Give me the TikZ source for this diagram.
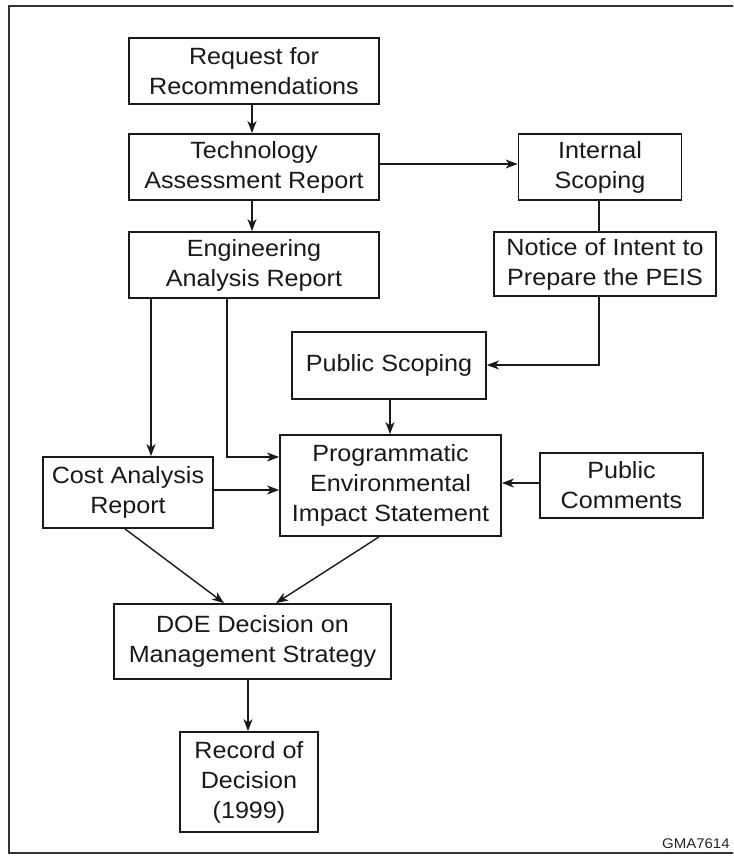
\documentclass[tikz,border=0pt]{standalone}
\usepackage{fontspec}
\setmainfont{Liberation Sans}[FakeStretch=1.07]
\usetikzlibrary{positioning, arrows.meta}

\tikzset{
  box/.style={draw=black!90, text=black!90, line width=1.8pt, align=center,
    inner sep=0pt, font=\fontsize{23.5}{30}\selectfont},
  link/.style={draw=black!90, line width=1.4pt, -{Stealth[length=12pt, width=9pt, inset=3.5pt]}},
  bareline/.style={draw=black!90, line width=1.4pt}
}

\begin{document}
\begin{tikzpicture}[x=1pt, y=-1pt]
    \useasboundingbox (0,0) rectangle (733,856);
    \clip (0,0) rectangle (733,856);
    \draw[black!80, line width=1.6pt] (9,6) rectangle (760,853);

    % left column
    \node[box, minimum width=250pt, minimum height=66pt] (req) at (254,71) {Request for\\Recommendations};
    \node[box, minimum width=250pt, minimum height=66pt] (tech) at (254,167) {Technology\\Assessment Report};
    \node[box, minimum width=250pt, minimum height=66pt] (eng) at (254,265) {Engineering\\Analysis Report};
    \node[box, minimum width=170pt, minimum height=71pt] (cost) at (128,492.5) {Cost Analysis\\Report};

    % right column
    \node[box, minimum width=163pt, minimum height=66pt] (intern) at (600,167) {Internal\\Scoping};
    \node[box, minimum width=222pt, minimum height=64pt] (notice) at (605,264) {Notice of Intent to\\Prepare the PEIS};
    \node[box, minimum width=194pt, minimum height=67pt] (pubscop) at (389,365.5) {Public Scoping};
    \node[box, minimum width=221pt, minimum height=101pt] (peis) at (390.5,485.5) {Programmatic\\Environmental\\Impact Statement};
    \node[box, minimum width=163pt, minimum height=65pt] (pubcom) at (621.5,485.5) {Public\\Comments};

    % bottom
    \node[box, minimum width=277pt, minimum height=75pt] (doe) at (252.5,641.5) {DOE Decision on\\Management Strategy};
    \node[box, minimum width=138pt, minimum height=100pt] (rec) at (249,782) {Record of\\Decision\\(1999)};

    \node[anchor=base west, text=black!85, font=\fontsize{14}{17}\selectfont, inner sep=0pt] (tag) at (662,848) {GMA7614};

    \draw[link] (req.south -| 252,0) -- (tech.north -| 252,0);
    \draw[link] (tech.south -| 252,0) -- (eng.north -| 252,0);
    \draw[link] (tech.east |- 0,164) -- (intern.west |- 0,164);
    \draw[bareline] (intern.south -| 599,0) -- (notice.north -| 599,0);
    \draw[link] (notice.south -| 599,0) |- (pubscop.east |- 0,365);
    \draw[link] (pubscop.south -| 390,0) -- (peis.north -| 390,0);
    \draw[link] (eng.south -| 151,0) -- (cost.north -| 151,0);
    \draw[link] (eng.south -| 227,0) |- (peis.west |- 0,457);
    \draw[link] (cost.east |- 0,490) -- (peis.west |- 0,490);
    \draw[link] (pubcom.west |- 0,483) -- (peis.east |- 0,483);
    \draw[link] (cost.south -| 125,0) -- (doe.north -| 224,0);
    \draw[link] (peis.south -| 379,0) -- (doe.north -| 276,0);
    \draw[link] (doe.south -| 248,0) -- (rec.north -| 248,0);
\end{tikzpicture}
\end{document}
